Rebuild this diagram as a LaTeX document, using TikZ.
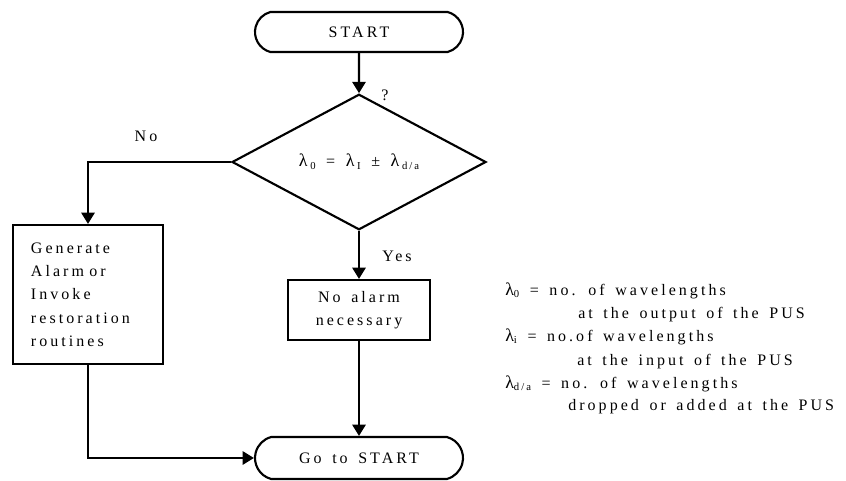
\documentclass[tikz,border=0pt]{standalone}
\usepackage{fontspec}
\setmainfont{Liberation Serif}
\newfontfamily\spaced[LetterSpace=19,WordSpace=1.5]{Liberation Serif}
\usetikzlibrary{shapes.geometric,shapes.misc,arrows.meta}
\newcommand{\lsub}[1]{\raisebox{-0.35ex}{\fontsize{8}{9}\selectfont #1}}
\newcommand{\lam}{{\fontsize{13.5}{14}\selectfont λ}}

\begin{document}
\begin{tikzpicture}[x=0.75pt,y=-0.75pt,
  every node/.style={font=\spaced\fontsize{12}{14}\selectfont},
  terminal/.style={draw,line width=1.6pt,rounded rectangle,rounded rectangle arc length=150,
    minimum width=156pt,minimum height=30pt,inner sep=0pt},
  decision/.style={draw,line width=1.6pt,diamond,minimum width=190.5pt,minimum height=78pt,inner sep=0pt},
  process/.style={draw,line width=1.6pt,rectangle,inner sep=0pt},
  arr/.style={line width=1.6pt,-{Triangle[length=8.5pt,width=10pt]}},
  legend/.style={anchor=base west,inner sep=0pt}]
\useasboundingbox (0,0) rectangle (846,481);
\node[terminal] (start) at (359,32) {START};
\node[decision] (dec) at (359,162) {\lam\,\lsub{0} = \lam\,\lsub{I} ± \lam\,\lsub{d/a}};
\node[process,minimum width=112.5pt,minimum height=104.25pt,text width=85.5pt,align=left] (alarm) at (88,294.5)
  {Generate\\[3.5pt] Alarm\hspace{4pt}or\\[3.5pt] Invoke\\[3.5pt] restoration\\[3.5pt] routines};
\node[process,minimum width=106.5pt,minimum height=45pt,align=center] (nab) at (359,310)
  {No alarm\\[3pt] necessary};
\node[terminal,minimum height=31.5pt] (goto) at (359,458) {Go to START};
\node (q) at (385,95) {?};
\node (no) at (146,136) {No};
\node (yes) at (397,256) {Yes};
\draw[arr] (start) -- (dec);
\draw[arr] (dec.west) -| (alarm.north);
\draw[arr] (alarm.south) |- (goto.west);
\draw[arr] (dec.south) -- (nab.north);
\draw[arr] (nab.south) -- (goto.north);
\node[legend] (l1) at (505,295) {\lam\lsub{0} = no. of wavelengths};
\node[legend] (l2) at (578,318) {at the output of the PUS};
\node[legend] (l3) at (505,341) {\lam\lsub{i} = no.of wavelengths};
\node[legend] (l4) at (577,365) {at the input of the PUS};
\node[legend] (l5) at (505,388) {\lam\lsub{d/a} = no. of wavelengths};
\node[legend] (l6) at (568,410) {dropped or added at the PUS};
\end{tikzpicture}
\end{document}
